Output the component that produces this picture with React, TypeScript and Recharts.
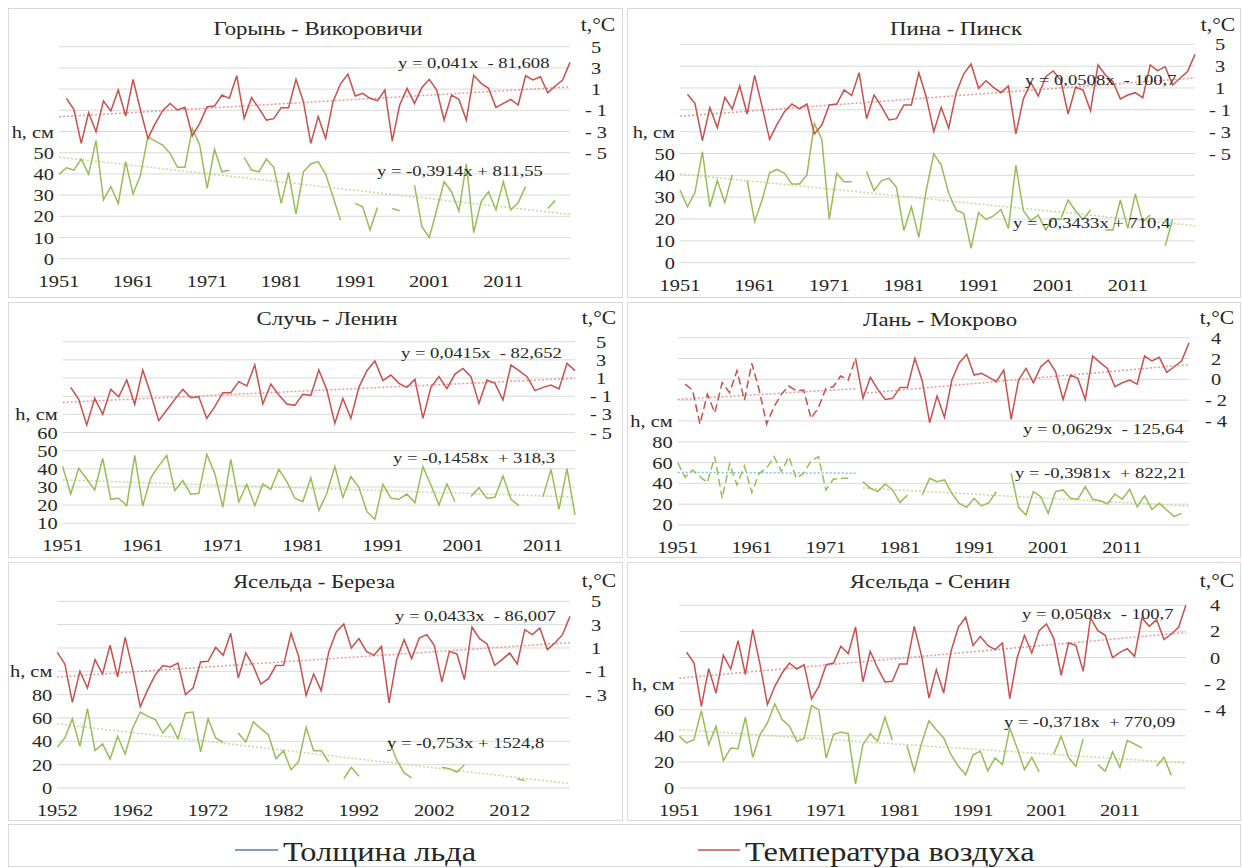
import React from "react";
import { ComposedChart, Line, XAxis, YAxis, CartesianGrid } from "recharts";

const FONT = '"Liberation Serif", "Times New Roman", serif';
const STRETCH = 1.2;
const TEXT = "#262626";
const GRID = "#d9d9d9";
const RED = "#c8504d";
const GREEN = "#9bbb59";
const RED_TREND = "#e49c9a";
const GREEN_TREND = "#c6d99f";
const BLUE_TREND = "#7ec3d9";
const LEGEND_BLUE = "#4f81bd";

// ---- tick values ----
const xTicks51 = [1951, 1961, 1971, 1981, 1991, 2001, 2011];
const xTicks52 = [1952, 1962, 1972, 1982, 1992, 2002, 2012];
const hTicks100 = [0, 10, 20, 30, 40, 50, 60, 70, 80, 90, 100];
const tTicks15 = [-15, -13, -11, -9, -7, -5, -3, -1, 1, 3, 5];
const hTicksSluch = [10, 20, 30, 40, 50, 60, 70, 80, 90, 100, 110];
const hTicksLan = [0, 20, 40, 60, 80, 100, 120, 140, 160, 180];
const tTicksLan = [-14, -12, -10, -8, -6, -4, -2, 0, 2, 4];
const hTicksBer = [0, 20, 40, 60, 80, 100, 120, 140, 160];
const tTicksBer = [-11, -9, -7, -5, -3, -1, 1, 3, 5];
const hTicksSen = [0, 20, 40, 60, 80, 100, 120, 140];
const tTicksSen = [-10, -8, -6, -4, -2, 0, 2, 4];

// ---- Горынь - Викоровичи, 1951-2020 ----
const gorynTemp = [
  null, 0.13, -0.91, -4.12, -1.23, -3.02, -0.13, -1.07, 0.91, -1.54,
  1.92, -0.97, -3.65, -2.23, -1.04, -0.35, -0.97, -0.72, -3.4, -2.23,
  -0.66, -0.6, 0.44, 0.13, 2.26, -1.76, 0.19, -0.82, -1.92, -1.79,
  -0.75, -0.75, 1.92, -0.19, -4.12, -1.6, -3.65, -0.19, 1.48, 2.42,
  0.35, 0.6, 0.13, -0.09, 0.91, -3.9, -0.5, 1.07, -0.35, 1.16,
  1.92, 0.91, -1.92, 0.44, 0.03, -1.92, 2.3, 1.54, 1.07, -0.72,
  -0.35, 0.03, -0.5, 2.26, 1.86, 2.17, 0.66, 1.29, 1.86, 3.52,
];
const gorynIce = [
  39.8, 42.9, 41.8, 47, 39.8, 55.7, 27.7, 34, 26.1, 45.8,
  30.5, 39.5, 57.5, 55.5, 53.6, 49.7, 43.1, 43.1, 61.5, 53.6,
  33.2, 51.6, 41, 41.7, null, 47.8, 41.8, 41, 47, 43.1,
  26.1, 40.7, 21, 41, 44.7, 45.8, 39.9, 29.2, 18.2, null,
  26.1, 24.5, 13.5, 24.2, null, 23.7, 22.6, null, 34.7, 15.1,
  10, 23, 36.3, 31.6, 22.5, 44.7, 12.3, 26.9, 31.6, 23,
  36.3, 23, 26.4, 34, null, null, 23.7, 27.4, null, null,
];

// ---- Пина - Пинск, 1951-2020 ----
const pinaTemp = [
  null, 0.42, -0.4, -3.82, -0.8, -2.63, 0.15, -0.92, 1.18, -1.38,
  2.16, -0.71, -3.7, -2.33, -1.17, -0.47, -0.92, -0.47, -3.21, -2.39,
  -0.56, -0.47, 0.82, 0.3, 2.4, -1.81, 0.36, -0.71, -1.93, -1.81,
  -0.56, -0.56, 2.4, 0.15, -3, -0.77, -2.69, 0.57, 2.28, 3.2,
  0.97, 1.67, 1.06, 0.57, 1.18, -3.21, 0, 1.49, 0.27, 2.04,
  2.56, 1.73, -1.38, 1.06, 0.82, -1.08, 3.11, 2.19, 1.58, 0,
  0.36, 0.57, 0.11, 3.11, 2.59, 2.95, 1.27, 1.89, 2.5, 4.08,
];
const pinaIce = [
  33.3, 25.6, 32.1, 50.8, 25.6, 37.6, 27.5, 40.2, null, 37.6,
  18.8, 28.7, 41.2, 42.7, 40.9, 36, 36, 40.2, 63.8, 56.5,
  19.8, 40.9, 37.1, 37.1, null, 41.7, 33, 37.6, 38.6, 34.5,
  14.7, 25.6, 11.6, 33.3, 49.8, 44.7, 31.8, 24.1, 22.6, 6.6,
  22.9, 19.8, 21.4, 24.4, 15.7, 44.7, 23.8, 19.2, 21.8, 15,
  20.3, 19.8, 28.7, 23.7, 19.8, 24.1, null, 15, 15, 28.7,
  15.7, 31.5, 18.8, 21.8, null, 7.6, 19.8, null, null, null,
];

// ---- Случь - Ленин, 1951-2015 ----
const sluchTemp = [
  null, -0.03, -1.35, -4.17, -1.24, -3, -0.25, -1.06, 0.78, -1.9,
  1.88, -0.76, -3.7, -2.52, -1.35, -0.25, -1.17, -1.06, -3.44, -2.16,
  -0.61, -0.61, 0.6, 0.12, 2.43, -1.86, 0.34, -0.87, -1.86, -2.01,
  -0.8, -0.91, 1.88, -0.32, -3.99, -1.24, -3.44, -0.03, 1.81, 2.87,
  0.71, 1.33, 0.41, -0.03, 0.85, -3.44, -0.03, 1.15, -0.17, 1.44,
  2.06, 1.15, -1.79, 0.78, 0.41, -1.42, 2.43, 1.81, 1.15, -0.39,
  -0.03, 0.23, -0.21, 2.61, 1.81,
];
const sluchIce = [
  41.2, 26.1, 40.3, 34.4, 28.3, 45.8, 23.2, 23.8, 19.7, 47.4,
  19.5, 35.1, 41.6, 47.4, 28, 33.5, 26, 26.5, 48, 37.5,
  18.8, 45.2, 21.9, 31.5, 19.7, 31.7, 28.7, 39.7, 32.9, 23.8,
  21.9, 35.1, 17, 26.5, 41.2, 24.3, 35.7, 29.8, 16.4, 12.2,
  31.5, 23.8, 23.2, 26.1, 21.4, 41.2, 31.1, 20.1, 31.7, 21.9,
  null, 24.7, 29.6, 23.8, 24.3, 36, 23.2, 19.7, null, null,
  24.7, 39.7, 17.7, 40.1, 14.6,
];

// ---- Лань - Мокрово, 1951-2020 (dashed until 1975) ----
const lanTemp = [
  null, -0.46, -1.03, -4.3, -1.42, -3.21, -0.33, -1.29, 0.83, -1.99,
  1.53, -1.03, -4.3, -2.63, -1.42, -0.65, -1.1, -1.03, -3.76, -2.7,
  -0.87, -0.71, 0.31, -0.08, 2.01, -1.83, 0.19, -0.97, -1.93, -1.83,
  -0.78, -0.78, 2.01, -0.13, -4.17, -1.61, -3.66, -0.07, 1.6, 2.4,
  0.41, 0.57, 0.19, -0.23, 0.89, -3.85, -0.07, 1.05, -0.33, 1.21,
  1.85, 0.73, -1.93, 0.41, 0.09, -1.93, 2.24, 1.6, 1.05, -0.71,
  -0.33, -0.07, -0.46, 2.24, 1.76, 2.11, 0.67, 1.21, 1.76, 3.52,
];
const lanIce = [
  59.9, 45.8, 52.9, 46.5, 40.7, 65.7, 25.6, 58.7, 38.5, 56.7,
  31.1, 49.7, 54.5, 65.7, 51.3, 65.7, 44.9, 49.7, 61.9, 65.7,
  33.7, 43.9, 44.9, 44.9, null, 41.7, 35.3, 32.1, 39.4, 33.7,
  21.5, 28.8, null, 28.8, 44.9, 41.7, 43.3, 30.4, 20.8, 17,
  25.6, 18.3, 21.5, 32.1, null, 49.7, 17, 9.6, 32.1, 27.2,
  11.2, 32.1, 33.7, 25.6, 24.7, 36.9, 24.7, 23.4, 20.2, 29.8,
  24.7, 34.3, 17.6, 27.9, 15.1, 20.8, 14.4, 8, 11.2, null,
];
const lanDashedUntil = 1975;

// ---- Ясельда - Береза, 1952-2020 ----
const berTemp = [
  0.63, -0.37, -3.66, -1, -2.43, 0, -1.23, 1.23, -1.49, 1.91,
  -0.86, -4.03, -2.57, -1.29, -0.51, -0.63, -0.29, -3, -2.43, -0.2,
  -0.14, 1.06, 0.37, 2.26, -1.57, 0.57, -0.57, -2.09, -1.63, -0.51,
  -0.49, 2.26, 0.29, -3.06, -1.23, -2.66, 0.66, 2.37, 3.06, 1,
  1.8, 0.71, 0.37, 1.14, -3.71, 0, 1.71, 0.09, 1.86, 2.14,
  1.23, -1.91, 0.71, 0.49, -1.71, 2.8, 1.8, 1.34, -0.49, 0,
  0.57, -0.37, 2.57, 2.14, 2.71, 0.86, 1.43, 2.14, 3.71,
];
const berIce = [
  34.9, 42.9, 59.4, 35.7, 68, 32, 37.7, 24.9, 44.3, 29.1,
  51.4, 65.1, 61.4, 58.6, 47.1, 55.1, 42.3, 64.3, 65.1, 30.9,
  59.4, 42.9, 39.1, null, 47.1, 39.4, 56.6, 50.9, 45.7, 25.1,
  32, 15.7, 22.3, 52, 32, 32, 22.3, null, 8, 17.7,
  10, null, null, null, 41.4, 24.3, 12.9, 8.6, null, null,
  null, 17.7, 16.6, 13.7, 20, null, null, null, null, null,
  null, 8, 6.3, null, null, null, null, null, null,
];

// ---- Ясельда - Сенин, 1951-2020 ----
const senTemp = [
  null, 0.4, -0.42, -3.74, -0.85, -2.72, 0.17, -0.88, 1.29, -1.31,
  2.14, -0.55, -3.61, -2.21, -1.19, -0.42, -0.88, -0.55, -3.18, -2.21,
  -0.55, -0.42, 0.86, 0.3, 2.34, -1.87, 0.48, -0.8, -1.87, -1.82,
  -0.5, -0.5, 2.39, 0.09, -3.1, -0.93, -2.72, 0.48, 2.31, 3.08,
  0.93, 1.62, 0.93, 0.6, 1.11, -3.15, -0.04, 1.7, 0.35, 2.06,
  2.57, 1.45, -1.36, 1.11, 0.93, -1.06, 3.03, 2.06, 1.7, 0,
  0.4, 0.68, 0.09, 3.03, 2.39, 2.9, 1.37, 1.8, 2.31, 4.05,
];
const senIce = [
  39.6, 34.5, 37, 59.3, 33.2, 47.3, 20.9, 30.7, 30.1, 54.2,
  23.5, 40.9, 49.8, 64.4, 52.4, 47.3, 35.8, 37.8, 63.1, 60,
  23, 40.9, 42.9, 41.6, 3.1, 33.2, 41.6, 35.8, 54.2, 37,
  null, 32.7, 12.8, 34.5, 51.6, 44.7, 38.3, 25.5, 16.6, 10.2,
  25.5, 28.1, 13.3, 23, 17.9, 46, 30.7, 14, 23.5, 12.3,
  null, 26.1, 39.6, 23.5, 16.6, 37.8, null, 17.9, 12.8, 27.6,
  15.8, 36.3, 33.7, 30.7, null, 16.6, 23.5, 9.7, null, null,
];

// trend equations shown on the chart: [slope, intercept]
const gorynTrendT = [0.041, -81.608];
const gorynTrendH = [-0.3914, 811.55];
const pinaTrendT = [0.0508, -100.7];
const pinaTrendH = [-0.3433, 710.4];
const sluchTrendT = [0.0415, -82.652];
const sluchTrendH = [-0.1458, 318.3];
const lanTrendT = [0.0629, -125.64];
const lanTrendH = [-0.3981, 822.21];
const lanEarlyTrendT = [-1.93, -0.9];
const lanEarlyTrendH = [50.5, 49.8];
const berTrendT = [0.0433, -86.007];
const berTrendH = [-0.753, 1524.8];
const senTrendT = [0.0508, -100.7];
const senTrendH = [-0.3718, 770.09];

type Series = { key: string; axis: "t" | "h"; data: (number | null)[]; color: string; dash?: string };
type Trend = { key: string; axis: "t" | "h"; from: number; to: number; v0: number; v1: number; color: string };

const eq = (c: number[], yr: number) => c[0] * yr + c[1];
const lineTrend = (key: string, axis: "t" | "h", c: number[], from: number, to: number, color: string): Trend => ({
  key, axis, from, to, v0: eq(c, from), v1: eq(c, to), color,
});

function buildRows(first: number, last: number, series: Series[], trends: Trend[]) {
  const rows: any[] = [];
  for (let yr = first; yr <= last; yr++) {
    const i = yr - first;
    const r: any = { year: yr };
    series.forEach((s) => (r[s.key] = s.data[i] ?? null));
    trends.forEach((tr) => {
      r[tr.key] = yr === tr.from ? tr.v0 : yr === tr.to ? tr.v1 : null;
    });
    rows.push(r);
  }
  return rows;
}

const split = (arr: (number | null)[], first: number, cut: number, early: boolean) =>
  arr.map((v, i) => (early ? (first + i <= cut ? v : null) : first + i >= cut ? v : null));

type Cfg = {
  title: string;
  titleX: number;
  titleY: number;
  box: { x: number; y: number; w: number; h: number };
  plot: { x1: number; x2: number; y1: number; y2: number };
  first: number;
  last: number;
  xTicks: number[];
  hDomain: number[];
  hTicks: number[];
  hMax: number;
  hTitleAt: number;
  tDomain: number[];
  tTicks: number[];
  tMin: number;
  rOff: number;
  series: Series[];
  trends: Trend[];
  eqT: { text: string; x: number; y: number };
  eqH: { text: string; x: number; y: number };
  unitX: number;
  unitY: number;
};

const basic = (t: (number | null)[], h: (number | null)[]): Series[] => [
  { key: "h", axis: "h", data: h, color: GREEN },
  { key: "t", axis: "t", data: t, color: RED },
];

const panels: Cfg[] = [
  {
    title: "Горынь - Викоровичи", titleX: 318, titleY: 35,
    box: { x: 8, y: 8, w: 615, h: 290 },
    plot: { x1: 59, x2: 570, y1: 46.7, y2: 258.7 },
    first: 1951, last: 2020, xTicks: xTicks51,
    hDomain: [0, 100], hTicks: hTicks100, hMax: 50, hTitleAt: 60,
    tDomain: [-15, 5], tTicks: tTicks15, tMin: -5, rOff: 26,
    series: basic(gorynTemp, gorynIce),
    trends: [
      lineTrend("th", "h", gorynTrendH, 1951, 2020, GREEN_TREND),
      lineTrend("tt", "t", gorynTrendT, 1951, 2020, RED_TREND),
    ],
    eqT: { text: "y = 0,041x  - 81,608", x: 398, y: 68 },
    eqH: { text: "y = -0,3914x + 811,55", x: 377, y: 176 },
    unitX: 598, unitY: 31,
  },
  {
    title: "Пина - Пинск", titleX: 956, titleY: 35,
    box: { x: 627, y: 8, w: 614, h: 290 },
    plot: { x1: 680, x2: 1195, y1: 44.3, y2: 262.7 },
    first: 1951, last: 2020, xTicks: xTicks51,
    hDomain: [0, 100], hTicks: hTicks100, hMax: 50, hTitleAt: 60,
    tDomain: [-15, 5], tTicks: tTicks15, tMin: -5, rOff: 25,
    series: basic(pinaTemp, pinaIce),
    trends: [
      lineTrend("th", "h", pinaTrendH, 1951, 2020, GREEN_TREND),
      lineTrend("tt", "t", pinaTrendT, 1951, 2020, RED_TREND),
    ],
    eqT: { text: "y = 0,0508x  - 100,7", x: 1025, y: 85 },
    eqH: { text: "y = -0,3433x + 710,4", x: 1013, y: 228 },
    unitX: 1218, unitY: 31,
  },
  {
    title: "Случь - Ленин", titleX: 327, titleY: 325,
    box: { x: 8, y: 302, w: 615, h: 256 },
    plot: { x1: 62.7, x2: 575, y1: 341.7, y2: 523.3 },
    first: 1951, last: 2015, xTicks: xTicks51,
    hDomain: [10, 110], hTicks: hTicksSluch, hMax: 60, hTitleAt: 70,
    tDomain: [-15, 5], tTicks: tTicks15, tMin: -5, rOff: 26,
    series: basic(sluchTemp, sluchIce),
    trends: [
      lineTrend("th", "h", sluchTrendH, 1951, 2015, GREEN_TREND),
      lineTrend("tt", "t", sluchTrendT, 1951, 2015, RED_TREND),
    ],
    eqT: { text: "y = 0,0415x  - 82,652", x: 401, y: 358 },
    eqH: { text: "y = -0,1458x  + 318,3", x: 393, y: 463 },
    unitX: 599, unitY: 324,
  },
  {
    title: "Лань - Мокрово", titleX: 940, titleY: 326,
    box: { x: 627, y: 302, w: 614, h: 256 },
    plot: { x1: 677.7, x2: 1189, y1: 337.7, y2: 525 },
    first: 1951, last: 2020, xTicks: xTicks51,
    hDomain: [0, 180], hTicks: hTicksLan, hMax: 80, hTitleAt: 100,
    tDomain: [-14, 4], tTicks: tTicksLan, tMin: -4, rOff: 27,
    series: [
      { key: "hA", axis: "h", data: split(lanIce, 1951, lanDashedUntil, true), color: GREEN, dash: "8 4" },
      { key: "h", axis: "h", data: split(lanIce, 1951, lanDashedUntil, false), color: GREEN },
      { key: "tA", axis: "t", data: split(lanTemp, 1951, lanDashedUntil, true), color: RED, dash: "8 4" },
      { key: "t", axis: "t", data: split(lanTemp, 1951, lanDashedUntil, false), color: RED },
    ],
    trends: [
      { key: "thA", axis: "h", from: 1951, to: 1975, v0: lanEarlyTrendH[0], v1: lanEarlyTrendH[1], color: BLUE_TREND },
      lineTrend("th", "h", lanTrendH, 1976, 2020, GREEN_TREND),
      { key: "ttA", axis: "t", from: 1951, to: 1975, v0: lanEarlyTrendT[0], v1: lanEarlyTrendT[1], color: RED_TREND },
      lineTrend("tt", "t", lanTrendT, 1976, 2020, RED_TREND),
    ],
    eqT: { text: "y = 0,0629x  - 125,64", x: 1023, y: 434 },
    eqH: { text: "y = -0,3981x  + 822,21", x: 1015, y: 478 },
    unitX: 1217, unitY: 324,
  },
  {
    title: "Ясельда - Береза", titleX: 314, titleY: 588,
    box: { x: 8, y: 562, w: 615, h: 259 },
    plot: { x1: 57.3, x2: 570, y1: 601.3, y2: 788 },
    first: 1952, last: 2020, xTicks: xTicks52,
    hDomain: [0, 160], hTicks: hTicksBer, hMax: 80, hTitleAt: 100,
    tDomain: [-11, 5], tTicks: tTicksBer, tMin: -3, rOff: 26,
    series: basic(berTemp, berIce),
    trends: [
      lineTrend("th", "h", berTrendH, 1952, 2020, GREEN_TREND),
      lineTrend("tt", "t", berTrendT, 1952, 2020, RED_TREND),
    ],
    eqT: { text: "y = 0,0433x  - 86,007", x: 395, y: 621 },
    eqH: { text: "y = -0,753x + 1524,8", x: 387, y: 748 },
    unitX: 599, unitY: 587,
  },
  {
    title: "Ясельда - Сенин", titleX: 930, titleY: 588,
    box: { x: 627, y: 562, w: 614, h: 259 },
    plot: { x1: 679.3, x2: 1186, y1: 605.3, y2: 788 },
    first: 1951, last: 2020, xTicks: xTicks51,
    hDomain: [0, 140], hTicks: hTicksSen, hMax: 60, hTitleAt: 80,
    tDomain: [-10, 4], tTicks: tTicksSen, tMin: -4, rOff: 29,
    series: basic(senTemp, senIce),
    trends: [
      lineTrend("th", "h", senTrendH, 1951, 2020, GREEN_TREND),
      lineTrend("tt", "t", senTrendT, 1951, 2020, RED_TREND),
    ],
    eqT: { text: "y = 0,0508x  - 100,7", x: 1022, y: 619 },
    eqH: { text: "y = -0,3718x  + 770,09", x: 1004, y: 727 },
    unitX: 1217, unitY: 587,
  },
];

// horizontally widened serif text, like the source image
function WText({
  x, y, size, anchor = "start", children,
}: { x: number; y: number; size: number; anchor?: "start" | "middle" | "end"; children: React.ReactNode }) {
  return (
    <text
      transform={`translate(${x} ${y}) scale(${STRETCH} 1)`}
      textAnchor={anchor}
      fontFamily={FONT}
      fontSize={size}
      fill={TEXT}
      style={{ whiteSpace: "pre" }}
    >
      {children}
    </text>
  );
}

const TICK_SIZE = 17;

function Panel({ c }: { c: Cfg }) {
  const { box, plot } = c;
  const rows = buildRows(c.first, c.last, c.series, c.trends);
  const leftW = plot.x1 - box.x;
  const rightW = box.x + box.w - plot.x2;
  const top = plot.y1 - box.y;
  const xH = box.y + box.h - plot.y2;
  const lx = plot.x1 - box.x - 5;
  const rx = plot.x2 - box.x + c.rOff;
  const by = plot.y2 - box.y + 28;

  const leftTick = (p: any) => {
    const v = p.payload.value;
    const s = v <= c.hMax ? String(v) : v === c.hTitleAt ? "h, см" : "";
    return (
      <WText x={lx} y={p.y + 6} size={TICK_SIZE} anchor="end">
        {s}
      </WText>
    );
  };
  const rightTick = (p: any) => {
    const v = p.payload.value;
    const s = v >= c.tMin ? (v < 0 ? `- ${-v}` : String(v)) : "";
    return (
      <WText x={rx} y={p.y + 6} size={TICK_SIZE} anchor="middle">
        {s}
      </WText>
    );
  };
  const bottomTick = (p: any) => (
    <WText x={p.x} y={by} size={TICK_SIZE} anchor="middle">
      {p.payload.value}
    </WText>
  );

  return (
    <div
      style={{
        position: "absolute",
        left: box.x,
        top: box.y,
        width: box.w,
        height: box.h,
        border: `1px solid ${GRID}`,
        boxSizing: "border-box",
      }}
    >
      <div style={{ position: "absolute", left: -1, top: -1 }}>
        <ComposedChart width={box.w} height={box.h} data={rows} margin={{ top, right: 0, bottom: 0, left: 0 }}>
          <CartesianGrid yAxisId="h" vertical={false} stroke={GRID} strokeWidth={1} />
          <XAxis
            dataKey="year"
            type="number"
            domain={[c.first, c.last]}
            ticks={c.xTicks}
            interval={0}
            axisLine={false}
            tickLine={false}
            height={xH}
            tick={bottomTick}
          />
          <YAxis
            yAxisId="h"
            orientation="left"
            type="number"
            domain={c.hDomain}
            ticks={c.hTicks}
            interval={0}
            width={leftW}
            axisLine={false}
            tickLine={false}
            allowDataOverflow
            tick={leftTick}
          />
          <YAxis
            yAxisId="t"
            orientation="right"
            type="number"
            domain={c.tDomain}
            ticks={c.tTicks}
            interval={0}
            width={rightW}
            axisLine={false}
            tickLine={false}
            allowDataOverflow
            tick={rightTick}
          />
          {c.trends.map((tr) => (
            <Line
              key={tr.key}
              yAxisId={tr.axis}
              dataKey={tr.key}
              stroke={tr.color}
              strokeWidth={1.5}
              strokeDasharray="2 2"
              dot={false}
              activeDot={false}
              connectNulls
              isAnimationActive={false}
            />
          ))}
          {c.series.map((s) => (
            <Line
              key={s.key}
              yAxisId={s.axis}
              dataKey={s.key}
              stroke={s.color}
              strokeWidth={1.5}
              strokeDasharray={s.dash}
              dot={false}
              activeDot={false}
              isAnimationActive={false}
            />
          ))}
        </ComposedChart>
      </div>
    </div>
  );
}

export default function App() {
  return (
    <div style={{ position: "absolute", left: 0, top: 0, width: 1243, height: 868, background: "#fff" }}>
      {panels.map((c) => (
        <Panel key={c.title} c={c} />
      ))}
      <div
        style={{
          position: "absolute",
          left: 8,
          top: 824,
          width: 1233,
          height: 43,
          border: `1px solid ${GRID}`,
          boxSizing: "border-box",
        }}
      />
      <svg
        width={1243}
        height={868}
        style={{ position: "absolute", left: 0, top: 0, pointerEvents: "none" }}
      >
        {panels.map((c) => (
          <g key={c.title}>
            <WText x={c.titleX} y={c.titleY} size={19} anchor="middle">
              {c.title}
            </WText>
            <WText x={c.unitX} y={c.unitY} size={18} anchor="middle">
              t,°C
            </WText>
            <WText x={c.eqT.x} y={c.eqT.y} size={15.5}>
              {c.eqT.text}
            </WText>
            <WText x={c.eqH.x} y={c.eqH.y} size={15.5}>
              {c.eqH.text}
            </WText>
          </g>
        ))}
        <line x1={235} y1={850} x2={278} y2={850} stroke={LEGEND_BLUE} strokeWidth={1.5} />
        <WText x={283} y={861} size={27}>
          Толщина льда
        </WText>
        <line x1={698} y1={850} x2={740} y2={850} stroke={RED} strokeWidth={1.5} />
        <WText x={745} y={861} size={27}>
          Температура воздуха
        </WText>
      </svg>
    </div>
  );
}
